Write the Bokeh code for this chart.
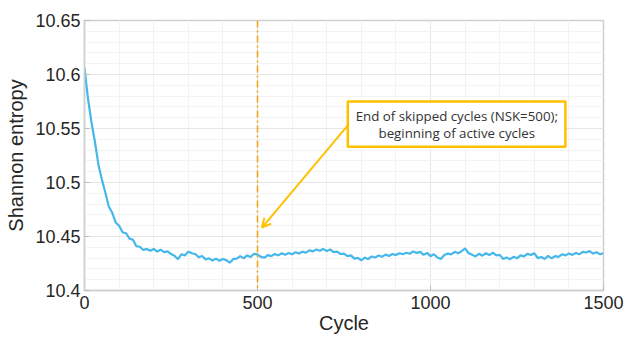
from bokeh.plotting import figure
from bokeh.models import (FixedTicker, Arrow, OpenHead, Span, Range1d)
from bokeh.core.properties import value
from bokeh.embed import file_html
from bokeh.resources import INLINE

cycles = list(range(0, 1501, 10))
entropy = [
    10.606, 10.578, 10.556, 10.538, 10.517, 10.503, 10.491, 10.478, 10.472, 10.463,
    10.460, 10.454, 10.453, 10.448, 10.447, 10.441, 10.4405, 10.4375, 10.4385, 10.4368,
    10.4385, 10.4360, 10.4378, 10.4355, 10.4362, 10.4338, 10.4322, 10.4290, 10.4335, 10.4325,
    10.4360, 10.4345, 10.4338, 10.4308, 10.4320, 10.4288, 10.4298, 10.4278, 10.4295, 10.4275,
    10.4292, 10.4280, 10.4258, 10.4292, 10.4295, 10.4318, 10.4298, 10.4325, 10.4310, 10.4340,
    10.4332, 10.4312, 10.4305, 10.4328, 10.4318, 10.4338, 10.4325, 10.4345, 10.4330, 10.4348,
    10.4335, 10.4355, 10.4342, 10.4360, 10.4350, 10.4372, 10.4362, 10.4380, 10.4368, 10.4385,
    10.4365, 10.4380, 10.4355, 10.4360, 10.4338, 10.4342, 10.4318, 10.4325, 10.4295, 10.4302,
    10.4280, 10.4305, 10.4290, 10.4315, 10.4305, 10.4325, 10.4312, 10.4332, 10.4320, 10.4338,
    10.4328, 10.4345, 10.4335, 10.4350, 10.4340, 10.4362, 10.4348, 10.4358, 10.4330, 10.4348,
    10.4318, 10.4335, 10.4305, 10.4292, 10.4328, 10.4342, 10.4335, 10.4358, 10.4345, 10.4365,
    10.4390, 10.4345, 10.4332, 10.4315, 10.4340, 10.4322, 10.4345, 10.4328, 10.4350, 10.4325,
    10.4330, 10.4292, 10.4305, 10.4290, 10.4312, 10.4298, 10.4325, 10.4315, 10.4340, 10.4328,
    10.4345, 10.4300, 10.4310, 10.4292, 10.4320, 10.4298, 10.4318, 10.4312, 10.4335, 10.4325,
    10.4342, 10.4330, 10.4348, 10.4335, 10.4358, 10.4352, 10.4365, 10.4342, 10.4355, 10.4335,
    10.4345,
]
x_ticks = [0, 500, 1000, 1500]
y_ticks = [10.4, 10.45, 10.5, 10.55, 10.6, 10.65]
y_tick_labels = {10.4: "10.4", 10.45: "10.45", 10.5: "10.5", 10.55: "10.55", 10.6: "10.6", 10.65: "10.65"}
nsk = 500
note_lines = ["End of skipped cycles (NSK=500);", "beginning of active cycles"]

FONT = "Liberation Sans"
TXT = "#262626"

p = figure(width=625, height=343, output_backend="svg", toolbar_location=None,
           x_range=Range1d(0, 1500), y_range=Range1d(10.4, 10.65),
           min_border_left=84, min_border_right=22, min_border_top=20, min_border_bottom=53)
p.background_fill_color = "white"
p.border_fill_color = "white"
p.outline_line_color = "#cfcfcf"
p.outline_line_width = 1.5

for ax in (p.xaxis[0], p.yaxis[0]):
    ax.axis_line_color = "#cfcfcf"
    ax.axis_line_width = 1.5
    ax.major_tick_in = 5
    ax.major_tick_out = 0
    ax.minor_tick_in = 0
    ax.minor_tick_out = 0
    ax.major_tick_line_color = "#bdbdbd"
    ax.major_label_text_font = FONT
    ax.major_label_text_font_size = "18px"
    ax.major_label_text_color = TXT
    ax.axis_label_text_font = FONT
    ax.axis_label_text_font_size = "20px"
    ax.axis_label_text_font_style = "normal"
    ax.axis_label_text_color = TXT

p.xaxis.ticker = FixedTicker(ticks=x_ticks, minor_ticks=list(range(0, 1501, 100)))
p.yaxis.ticker = FixedTicker(ticks=y_ticks, minor_ticks=[round(10.4 + 0.01 * i, 2) for i in range(26)])
p.yaxis.major_label_overrides = y_tick_labels
p.xaxis.axis_label = "Cycle"
p.yaxis.axis_label = "Shannon entropy"
p.xaxis.major_label_standoff = 5
p.yaxis.major_label_standoff = 4
p.xaxis.axis_label_standoff = 0
p.yaxis.axis_label_standoff = 5

p.xgrid.grid_line_color = "#e6e6e6"
p.ygrid.grid_line_color = "#e6e6e6"
p.xgrid.minor_grid_line_color = "#f3f3f3"
p.ygrid.minor_grid_line_color = "#f3f3f3"

p.line(cycles, entropy, line_color="#45b7ea", line_width=2.2)

p.add_layout(Span(location=nsk, dimension="height", line_color="#EDA520",
                  line_width=1.6, line_dash="7 3 2 3"))

box_l, box_r, box_b, box_t = 761, 1390, 10.533, 10.575
p.quad(left=[box_l], right=[box_r], bottom=[box_b], top=[box_t],
       fill_color="white", line_color="#FFC000", line_width=2.5)
p.text(x=[1076, 1076], y=[10.5612, 10.5455], text=note_lines,
       text_align="center", text_baseline="middle", text_font=value("Open Sans"),
       text_font_size="13.3px", text_color="#333333")
p.add_layout(Arrow(end=OpenHead(size=9, line_color="#FFC000", line_width=2),
                   x_start=761, y_start=10.5528, x_end=513, y_end=10.4583,
                   line_color="#FFC000", line_width=2))

open("out.html", "w").write(file_html(p, INLINE))
